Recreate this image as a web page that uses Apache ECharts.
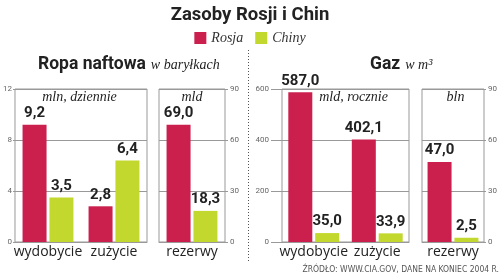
<!DOCTYPE html>
<html>
<head>
<meta charset="utf-8">
<script src="https://cdn.jsdelivr.net/npm/echarts@6/dist/echarts.min.js"></script>
<style>html,body{margin:0;padding:0;background:#fff}#c{width:500px;height:275px}</style>
</head>
<body>
<div id="c"></div>
<script>
const categoriesProd = ['wydobycie', 'zużycie'];
const categoriesRes = ['rezerwy'];
const oilRosja = [9.2, 2.8];
const oilChiny = [3.5, 6.4];
const oilResRosja = [69.0];
const oilResChiny = [18.3];
const gasRosja = [587.0, 402.1];
const gasChiny = [35.0, 33.9];
const gasResRosja = [47.0];
const gasResChiny = [2.5];
const seriesNames = ['Rosja', 'Chiny'];
const axisRanges = [[0, 12, 4], [0, 90, 30], [0, 600, 200], [0, 90, 30]];
const subtitles = ['mln, dziennie', 'mld', 'mld, rocznie', 'bln'];

const RED = '#CB1F4E', GREEN = '#C3D82E';
const grids = [
  {left: 12, top: 89, width: 135, height: 153},
  {left: 159, top: 89, width: 66, height: 153},
  {left: 282, top: 89, width: 127, height: 153},
  {left: 422, top: 89, width: 67, height: 153}
];
const yPos = ['left', 'right', 'left', 'right'];
const tickLen = [2, 3, 11, 2];
const labMargin = [3, 5, 13, 4];
const cats = [categoriesProd, categoriesRes, categoriesProd, categoriesRes];
const dataR = [oilRosja, oilResRosja, gasRosja, gasResRosja];
const dataC = [oilChiny, oilResChiny, gasChiny, gasResChiny];

const fmt = p => p.value.toFixed(1).replace('.', ',');
const labelStyle = {show: true, position: 'top', distance: 4, formatter: fmt,
  fontFamily: 'Roboto', fontWeight: 'bold', fontSize: 15, color: '#222'};
const richTitle = {
  b: {fontFamily: 'Roboto', fontWeight: 'bold', fontSize: 17.5, color: '#222'},
  i: {fontFamily: 'Liberation Serif', fontStyle: 'italic', fontWeight: 'normal', fontSize: 14, color: '#222'}
};

const option = {
  animation: false,
  title: [
    {text: 'Zasoby Rosji i Chin', left: 'center', top: 1,
     textStyle: {fontFamily: 'Roboto', fontWeight: 'bold', fontSize: 18.5, color: '#222'}},
    {text: '{b|Ropa naftowa} {i|w baryłkach}', left: 33, top: 51, textStyle: {rich: richTitle}},
    {text: '{b|Gaz} {i|w m³}', left: 365, top: 51, textStyle: {rich: richTitle}}
  ],
  legend: {
    data: seriesNames, top: 26, left: 'center', icon: 'rect',
    itemWidth: 12, itemHeight: 12, itemGap: 12,
    textStyle: {fontFamily: 'Liberation Serif', fontStyle: 'italic', fontSize: 14, color: '#333'}
  },
  grid: grids.map(g => Object.assign({show: true, borderColor: '#999', borderWidth: 1, containLabel: false}, g)),
  xAxis: cats.map((c, i) => ({
    type: 'category', gridIndex: i, data: c,
    axisLine: {show: true, lineStyle: {color: '#999'}}, axisTick: {show: false},
    axisLabel: {interval: 0, hideOverlap: false, fontFamily: 'Open Sans', fontSize: 14, color: '#222', margin: 3}
  })),
  yAxis: axisRanges.map((r, i) => ({
    type: 'value', gridIndex: i, min: r[0], max: r[1], interval: r[2], position: yPos[i],
    axisLine: {show: false},
    axisTick: {show: true, length: tickLen[i], lineStyle: {color: '#999'}},
    axisLabel: {fontFamily: 'Roboto', fontSize: 8, color: '#666', margin: labMargin[i]},
    splitLine: {show: true, lineStyle: {color: '#999', width: 1}}
  })),
  series: [],
  graphic: [
    {type: 'line', shape: {x1: 248.5, y1: 50, x2: 248.5, y2: 262},
     style: {stroke: '#555', lineWidth: 1, lineDash: [1, 2]}},
    {type: 'text', x: 499, y: 265, style: {text: 'ŹRÓDŁO: WWW.CIA.GOV, DANE NA KONIEC 2004 R.',
      align: 'right', font: '8.5px "Liberation Sans Narrow", "DejaVu Sans Condensed", sans-serif', fill: '#555'}}
  ]
};
subtitles.forEach((s, i) => {
  option.graphic.push({type: 'text', x: grids[i].left + grids[i].width / 2 + (i === 2 ? 8 : 0), y: 97,
    style: {text: s, align: 'center', verticalAlign: 'middle',
      font: 'italic 14px "Liberation Serif", serif', fill: '#222'}});
});
for (let i = 0; i < 4; i++) {
  option.series.push({name: 'Rosja', type: 'bar', xAxisIndex: i, yAxisIndex: i, data: dataR[i],
    barWidth: 24, barGap: '12%', itemStyle: {color: RED}, label: labelStyle});
  option.series.push({name: 'Chiny', type: 'bar', xAxisIndex: i, yAxisIndex: i, data: dataC[i],
    barWidth: 24, barGap: '12%', itemStyle: {color: GREEN}, label: labelStyle});
}
const chart = echarts.init(document.getElementById('c'), null, {renderer: 'canvas'});
chart.setOption(option);
</script>
</body>
</html>
